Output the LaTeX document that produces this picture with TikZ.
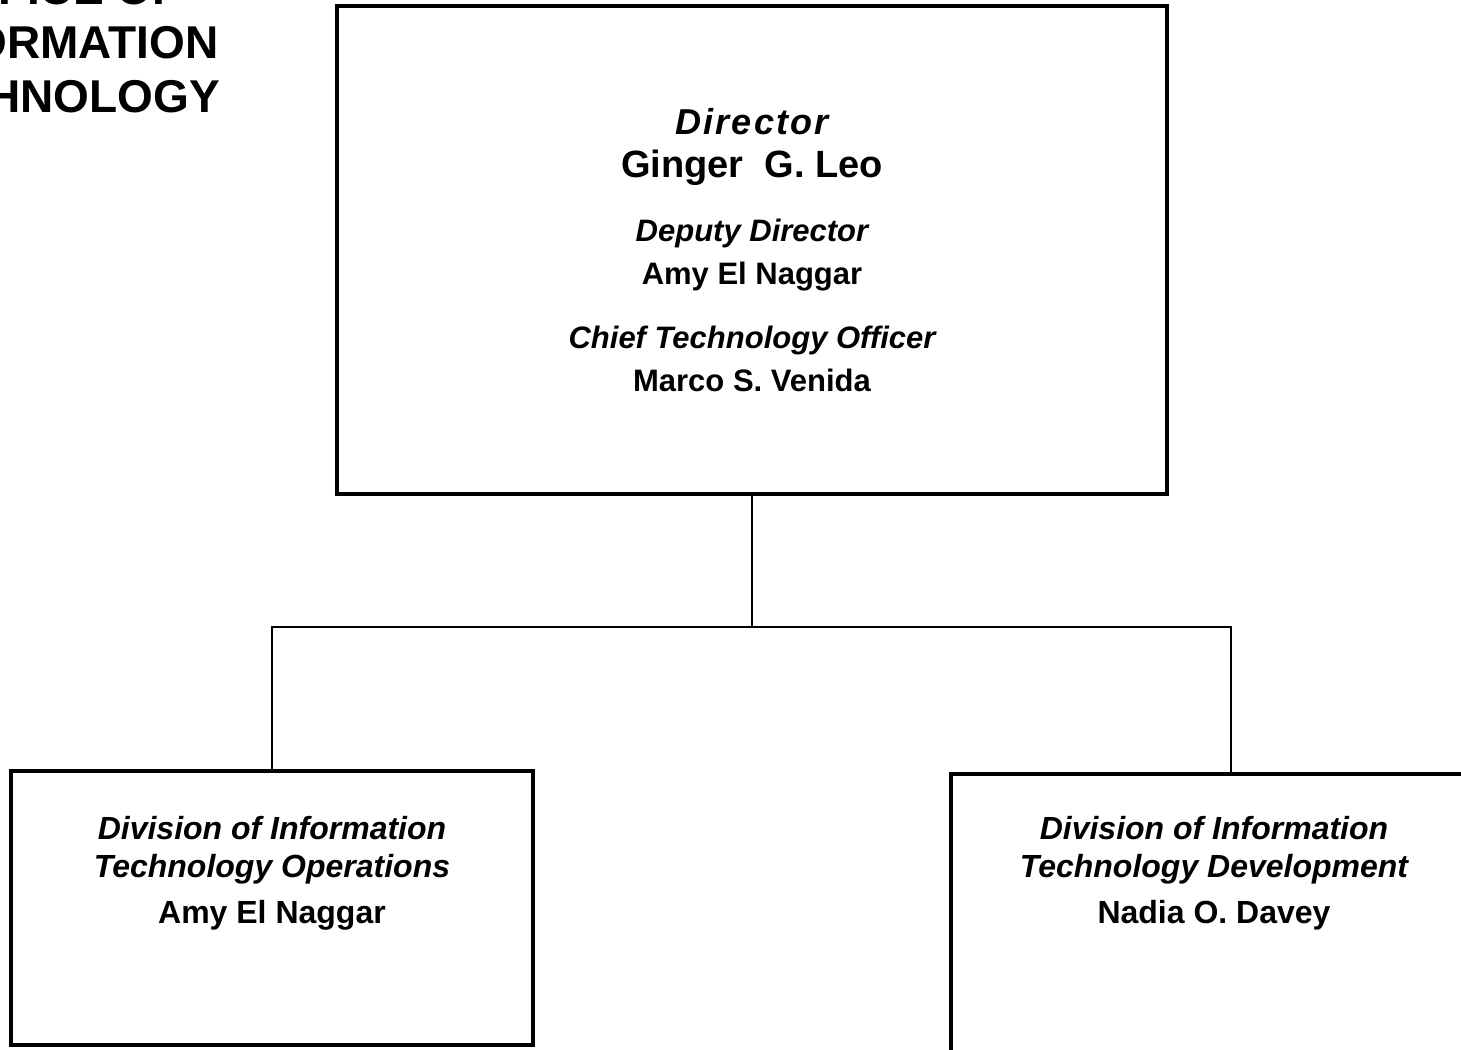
\documentclass[tikz,border=0pt]{standalone}
\usepackage{fontspec}
\setmainfont{Liberation Sans}
\usepackage{tikz}
\usetikzlibrary{
  positioning,
  calc
}
\tikzset{
  unit/.style={
    draw,
    line width=4.3pt,
    inner sep=0pt,
    outer sep=0pt,
    align=center,
  },
  link/.style={
    draw,
    line width=2pt,
  },
  unittext/.style={
    inner sep=0pt,
    align=center,
    font=\fontsize{32}{38}\selectfont,
  },
}
\newcommand{\role}[1]{{\bfseries\itshape #1}}
\newcommand{\who}[1]{{\bfseries #1}}

\begin{document}
\begin{tikzpicture}[x=1pt,y=1pt]
		\def\gap{21pt}
		\path[use as bounding box, clip] (0,0) rectangle (1461,-1049);

		\tikzset{
			heading/.style={inner sep=0pt, align=center, font=\fontsize{46}{54}\selectfont\bfseries}
		}

		% title, cut by the page edge
		\node[heading] (title) at (57.7,-42.5) {OFFICE OF\\INFORMATION\\TECHNOLOGY};

		% boxes
		\node[unit, minimum width=830pt, minimum height=488pt,
			font=\fontsize{31}{43}\selectfont] (office) at (752,-250)
		{{\fontsize{36}{43}\selectfont\addfontfeature{LetterSpace=6}\role{Director}}\\
		 {\fontsize{38}{43}\selectfont\who{Ginger\ \ G.\ Leo}}\\[\gap]
		 \role{Deputy Director}\\
		 \who{Amy El Naggar}\\[\gap]
		 \role{Chief Technology Officer}\\
		 \who{Marco S. Venida}};

		\node[unit, minimum width=522pt, minimum height=273.5pt] (ops) at (272,-908) {};
		\node[unittext, below=45pt of ops.north] (opstext)
		{\role{Division of Information}\\
		 \role{Technology Operations}\\[8pt]
		 \who{Amy El Naggar}};

		\node[unit, minimum width=526pt, minimum height=290pt] (dev) at (1214,-919) {};
		\node[unittext, below=42.5pt of dev.north] (devtext)
		{\role{Division of Information}\\
		 \role{Technology Development}\\[8pt]
		 \who{Nadia O. Davey}};

		% connectors
		\coordinate (bus) at ($(office.south)+(0,-133)$);
		\draw[link] (office.south) -- (bus);
		\draw[link] (ops.north) |- (bus) -| ([xshift=17pt]dev.north);

\end{tikzpicture}
\end{document}
